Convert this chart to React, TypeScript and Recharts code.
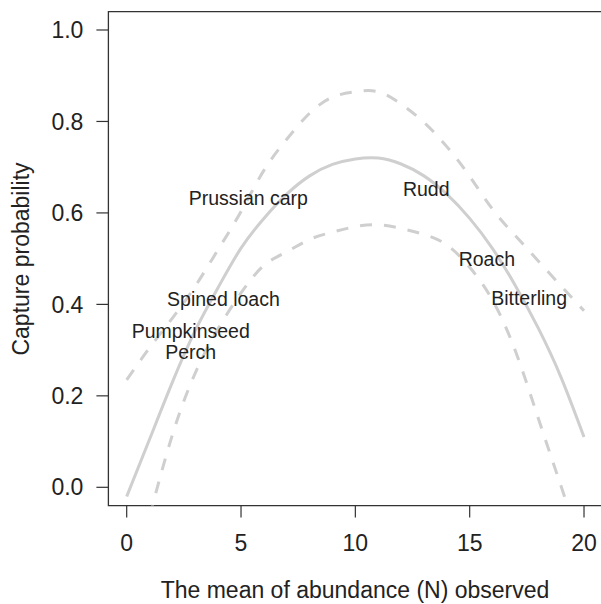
import React from 'react';
import { ComposedChart, Line, Scatter, XAxis, YAxis, ReferenceArea } from 'recharts';

const xValues = [0, 1, 2, 3, 4, 5, 6, 7, 8, 9, 10, 11, 12, 13, 14, 15, 16, 17, 18, 19, 20];
const fitted = [-0.02, 0.105, 0.23, 0.343, 0.437, 0.523, 0.588, 0.641, 0.681, 0.706, 0.718, 0.72, 0.707, 0.681, 0.641, 0.588, 0.522, 0.441, 0.348, 0.24, 0.11];
const upperCI = [0.235, 0.305, 0.37, 0.44, 0.52, 0.603, 0.693, 0.761, 0.818, 0.853, 0.865, 0.865, 0.838, 0.798, 0.745, 0.68, 0.608, 0.55, 0.495, 0.44, 0.386];
const lowerCI = [null, -0.064, 0.115, 0.25, 0.347, 0.425, 0.485, 0.515, 0.542, 0.558, 0.57, 0.574, 0.566, 0.553, 0.53, 0.481, 0.409, 0.298, 0.151, 0.002, -0.147];

const speciesNames = ['Prussian carp', 'Spined loach', 'Pumpkinseed', 'Perch', 'Rudd', 'Roach', 'Bitterling'];
const speciesX = [5.32, 4.23, 2.8, 2.8, 13.1, 15.75, 17.6];
const speciesY = [0.632, 0.411, 0.342, 0.295, 0.652, 0.499, 0.415];

const xTicks = [0, 5, 10, 15, 20];
const yTicks = [0, 0.2, 0.4, 0.6, 0.8, 1.0];

const curveData = xValues.map((x, i) => ({ x, fit: fitted[i], upper: upperCI[i], lower: lowerCI[i] }));
const labelData = speciesNames.map((name, i) => ({ x: speciesX[i], y: speciesY[i], name }));

const FONT = '"Liberation Sans", Arial, Helvetica, sans-serif';
const CURVE = '#cfcfcf';

const LabelShape = (props: any) => {
  const { cx, cy, payload } = props;
  return (
    <text x={cx} y={cy} textAnchor="middle" dominantBaseline="central" fontSize={19.5} fontFamily={FONT} fill="#222">
      {payload.name}
    </text>
  );
};

export default function App() {
  return (
    <div style={{ position: 'absolute', left: 0, top: 0, background: '#fff' }}>
      <ComposedChart
        width={604}
        height={604}
        data={curveData}
        margin={{ top: 11.7, right: 1.7, left: 0, bottom: 0 }}
      >
        <XAxis
          dataKey="x"
          type="number"
          domain={[-0.8, 20.8]}
          ticks={xTicks}
          allowDataOverflow
          height={98.4}
          axisLine={false}
          tickLine={{ stroke: '#333', strokeWidth: 1.2 }}
          tickSize={12}
          tickMargin={17}
          tick={{ fontSize: 23, fontFamily: FONT, fill: '#222' }}
          interval={0}
        />
        <YAxis
          type="number"
          domain={[-0.04, 1.04]}
          ticks={yTicks}
          allowDataOverflow
          width={108.4}
          axisLine={false}
          tickLine={{ stroke: '#333', strokeWidth: 1.2 }}
          tickSize={12}
          tickMargin={13}
          tickFormatter={(v: number) => v.toFixed(1)}
          tick={{ fontSize: 23, fontFamily: FONT, fill: '#222' }}
          interval={0}
        />
        <ReferenceArea
          x1={-0.8}
          x2={20.8}
          y1={-0.04}
          y2={1.04}
          fill="none"
          fillOpacity={0}
          stroke="#333"
          strokeWidth={1.3}
          ifOverflow="visible"
        />
        <Line type="natural" dataKey="upper" stroke={CURVE} strokeWidth={3} strokeDasharray="12 12" dot={false} isAnimationActive={false} />
        <Line type="natural" dataKey="lower" stroke={CURVE} strokeWidth={3} strokeDasharray="12 12" dot={false} isAnimationActive={false} />
        <Line type="natural" dataKey="fit" stroke={CURVE} strokeWidth={3} dot={false} isAnimationActive={false} />
        <Scatter data={labelData} dataKey="y" shape={LabelShape} isAnimationActive={false} />
        <text x={355} y={598} textAnchor="middle" fontSize={23} fontFamily={FONT} fill="#222">
          The mean of abundance (N) observed
        </text>
        <text
          x={29}
          y={259}
          textAnchor="middle"
          fontSize={23}
          fontFamily={FONT}
          fill="#222"
          transform="rotate(-90 29 259)"
        >
          Capture probability
        </text>
      </ComposedChart>
    </div>
  );
}
